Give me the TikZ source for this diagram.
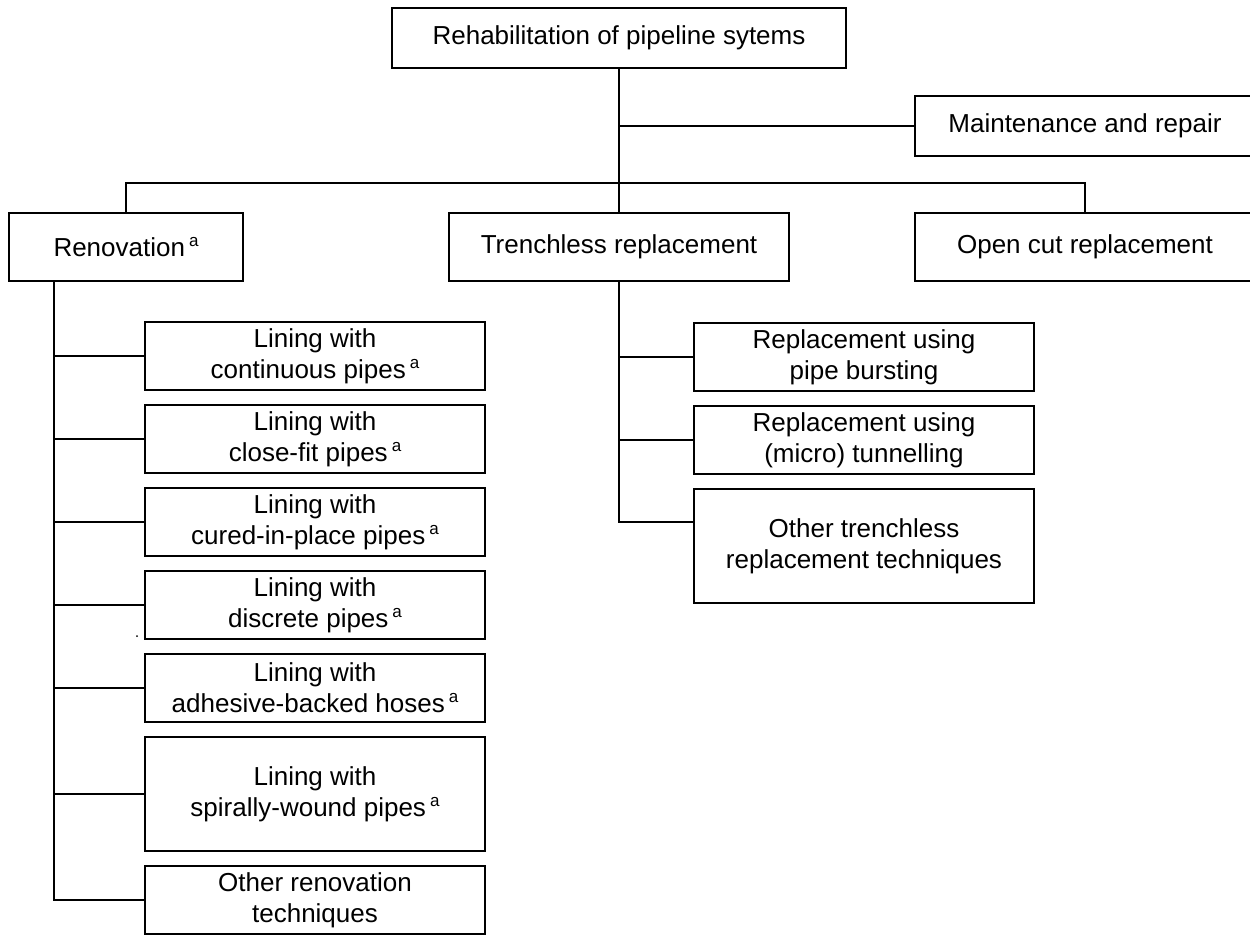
\documentclass[tikz,border=0pt]{standalone}
\usepackage{fontspec}
\setmainfont{Liberation Sans}
\newcommand\supa{\kern4pt\raisebox{10pt}{\fontsize{17}{17}\selectfont a}}
\begin{document}
\begin{tikzpicture}[x=1pt,y=-1pt,
  box/.style={draw,line width=1.8pt,inner sep=0pt,align=center,
    font=\fontsize{26}{31}\selectfont},
  conn/.style={line width=1.8pt}]
\clip (0,0) rectangle (1250,936);
\fill[white] (0,0) rectangle (1250,936);
% level 0/1
\node[box,minimum width=454pt,minimum height=60pt] (top) at (619,38) {Rehabilitation of pipeline sytems};
\node[box,minimum width=340pt,minimum height=60pt] (maint) at (1085,126) {Maintenance and repair};
\node[box,minimum width=234pt,minimum height=68pt] (reno) at (126,247) {Renovation\supa};
\node[box,minimum width=340pt,minimum height=68pt] (trench) at (619,247) {Trenchless replacement};
\node[box,minimum width=340pt,minimum height=68pt] (open) at (1085,247) {Open cut replacement};
% renovation children
\node[box,minimum width=340pt,minimum height=68pt] (L1) at (315,356) {Lining with\\continuous pipes\supa};
\node[box,minimum width=340pt,minimum height=68pt] (L2) at (315,439) {Lining with\\close-fit pipes\supa};
\node[box,minimum width=340pt,minimum height=68pt] (L3) at (315,522) {Lining with\\cured-in-place pipes\supa};
\node[box,minimum width=340pt,minimum height=68pt] (L4) at (315,605) {Lining with\\discrete pipes\supa};
\node[box,minimum width=340pt,minimum height=68pt] (L5) at (315,688) {Lining with\\adhesive-backed hoses\supa};
\node[box,minimum width=340pt,minimum height=114pt] (L6) at (315,794) {Lining with\\spirally-wound pipes\supa};
\node[box,minimum width=340pt,minimum height=68pt] (L7) at (315,900) {Other renovation\\techniques};
% trenchless children
\node[box,minimum width=340pt,minimum height=68pt] (T1) at (864,357) {Replacement using\\pipe bursting};
\node[box,minimum width=340pt,minimum height=68pt] (T2) at (864,440) {Replacement using\\(micro) tunnelling};
\node[box,minimum width=340pt,minimum height=114pt] (T3) at (864,546) {Other trenchless\\replacement techniques};
% connectors
\coordinate (bus) at (619,183);
\coordinate (mj) at (619,126);
\draw[conn] (top.south) -- (trench.north);
\draw[conn] (mj) -- (maint.west);
\draw[conn] (reno.north) |- (bus) -| (open.north);
\coordinate (rt) at (54,281);
\draw[conn] (rt) |- (L7.west);
\foreach \n in {L1,L2,L3,L4,L5,L6}{\draw[conn] (rt |- \n.west) -- (\n.west);}
\coordinate (tj) at (619,522);
\draw[conn] (trench.south) -- (tj) -- (tj -| T3.west);
\draw[conn] (trench.south |- T1.west) -- (T1.west);
\draw[conn] (trench.south |- T2.west) -- (T2.west);
% stray dot
\fill (137,636) circle (1pt);
\end{tikzpicture}
\end{document}
